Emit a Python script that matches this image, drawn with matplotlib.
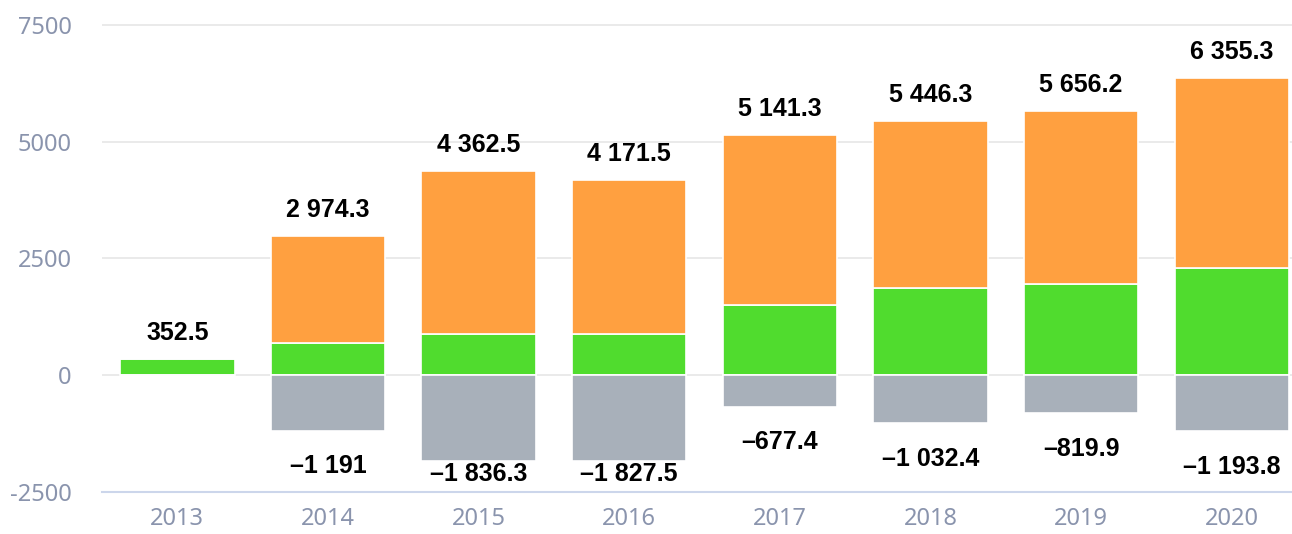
import matplotlib.pyplot as plt
import numpy as np

plt.rcParams['axes.unicode_minus'] = False

# data
years = ['2013', '2014', '2015', '2016', '2017', '2018', '2019', '2020']
green = [352.5, 690, 880, 880, 1500, 1865, 1950, 2300]
totals = [352.5, 2974.3, 4362.5, 4171.5, 5141.3, 5446.3, 5656.2, 6355.3]
negative = [0, -1191, -1836.3, -1827.5, -677.4, -1032.4, -819.9, -1193.8]
orange = [t - g for t, g in zip(totals, green)]


def fmt(v):
    s = ('%.1f' % abs(v)).rstrip('0').rstrip('.')
    ip, _, dp = s.partition('.')
    ip = '{:,}'.format(int(ip)).replace(',', ' ')
    s = ip + ('.' + dp if dp else '')
    return ('\u2013' if v < 0 else '') + s


fig = plt.figure(figsize=(12.92, 5.34), dpi=100)
ax = fig.add_axes([102 / 1292, 1 - 492 / 534, 1 - 102 / 1292, (492 - 26) / 534 + 0.02])

x = np.arange(len(years))
w = 0.76
ax.bar(x, green, w, color='#50dc2e', edgecolor='white', linewidth=1.2, zorder=3)
ax.bar(x, orange, w, bottom=green, color='#ffa040', edgecolor='white', linewidth=1.2, zorder=3)
ax.bar(x, negative, w, color='#a8b0ba', edgecolor='white', linewidth=1.2, zorder=3)

lab_font = ['Liberation Sans', 'DejaVu Sans']
ymin = -2500
for i in range(len(years)):
    ax.annotate(fmt(totals[i]), (x[i], totals[i]), xytext=(0, 10), textcoords='offset points',
                ha='center', va='bottom', fontsize=18, fontweight='bold', family=lab_font)
    if negative[i] < 0:
        if negative[i] < -1500:
            # no room below the bar: keep it inside the plot
            ax.annotate(fmt(negative[i]), (x[i], ymin), xytext=(0, 4), textcoords='offset points',
                        ha='center', va='bottom', fontsize=18, fontweight='bold', family=lab_font)
        else:
            ax.annotate(fmt(negative[i]), (x[i], negative[i]), xytext=(0, -17), textcoords='offset points',
                        ha='center', va='top', fontsize=18, fontweight='bold', family=lab_font)

ax.set_ylim(ymin, 7500 + 200)
ax.set_xlim(-0.5, 7.4)
ax.set_yticks([-2500, 0, 2500, 5000, 7500])
ax.set_xticks(x)
ax.set_xticklabels(years)
ax.yaxis.grid(True, color='#e6e6e6', linewidth=1.2, zorder=0)
for s in ['top', 'right', 'left']:
    ax.spines[s].set_visible(False)
ax.spines['bottom'].set_position(('data', ymin))
ax.spines['bottom'].set_color('#ccd6eb')
ax.spines['bottom'].set_linewidth(1.5)
ax.tick_params(axis='both', length=0, labelsize=17, labelcolor='#8a94ad')
ax.tick_params(axis='y', pad=22)
ax.tick_params(axis='x', pad=11)
for t in ax.get_xticklabels() + ax.get_yticklabels():
    t.set_family(['Noto Sans', 'DejaVu Sans'])

plt.savefig('out.png', dpi=100)
